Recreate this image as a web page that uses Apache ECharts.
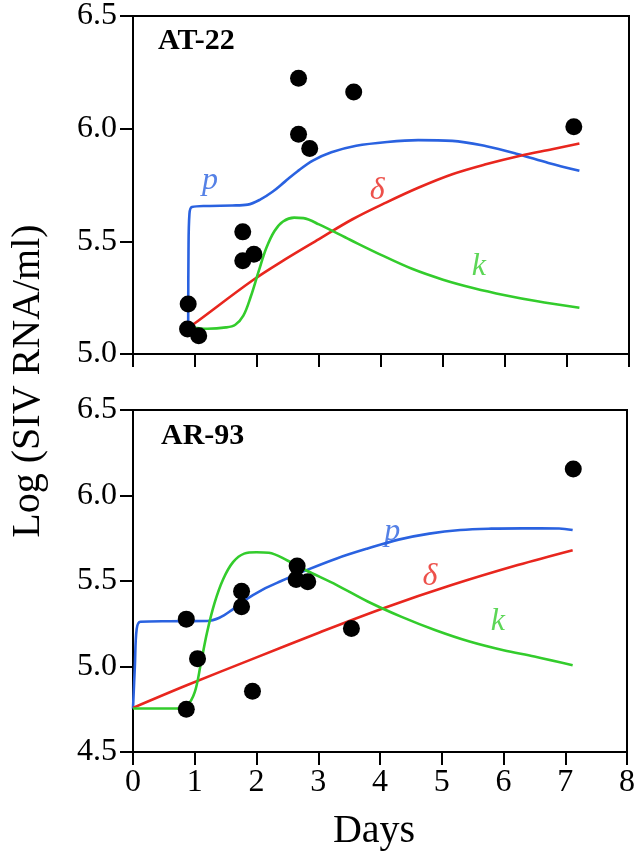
<!DOCTYPE html>
<html>
<head>
<meta charset="utf-8">
<script src="https://cdn.jsdelivr.net/npm/echarts@6/dist/echarts.min.js"></script>
<style>html,body{margin:0;padding:0;background:#fff}#c{width:638px;height:853px}</style>
</head>
<body>
<div id="c"></div>
<script>
// ---- data (days, log10 SIV RNA/ml) ----
const xTicks = [0, 1, 2, 3, 4, 5, 6, 7, 8];
const topYTicks = [5.0, 5.5, 6.0, 6.5];
const botYTicks = [4.5, 5.0, 5.5, 6.0, 6.5];
const panelNames = ['AT-22', 'AR-93'];

const atDots = [[0.89,5.222],[0.88,5.111],[1.06,5.081],[1.77,5.542],[1.77,5.414],[1.95,5.443],
  [2.67,6.224],[2.67,5.975],[2.85,5.912],[3.56,6.163],[7.11,6.009]];
const atP = [[0.89,5.12],[0.895,5.45],[0.91,5.62],[0.95,5.652],[1.2,5.657],[1.6,5.659],[1.85,5.663],
  [2.05,5.685],[2.25,5.72],[2.45,5.765],[2.65,5.81],[2.9,5.858],[3.2,5.895],[3.6,5.924],[4.1,5.941],
  [4.6,5.949],[5.15,5.946],[5.7,5.922],[6.2,5.888],[6.7,5.848],[7.2,5.813]];
const atDelta = [[0.9,5.12],[0.98,5.133],[1.92,5.325],[2.46,5.421],[3.0,5.51],[3.54,5.598],
  [4.08,5.672],[4.61,5.739],[5.15,5.798],[5.69,5.842],[6.23,5.879],[6.76,5.909],[7.2,5.934]];
const atK = [[0.9,5.12],[1.2,5.112],[1.5,5.118],[1.65,5.13],[1.78,5.17],[1.9,5.255],[2.03,5.37],
  [2.15,5.47],[2.28,5.545],[2.42,5.588],[2.6,5.605],[2.75,5.603],[3.0,5.575],[3.5,5.507],[4.0,5.44],
  [4.5,5.378],[5.0,5.33],[5.5,5.292],[6.0,5.261],[6.5,5.235],[7.2,5.205]];
const atLabels = [[1.24,5.77,'p'],[3.94,5.724,'δ'],[5.58,5.39,'k']];

const arDots = [[0.863,5.277],[1.045,5.046],[0.863,4.75],[1.758,5.44],[1.758,5.349],[1.935,4.855],
  [2.658,5.587],[2.642,5.509],[2.83,5.495],[3.537,5.222],[7.13,6.155]];
const arP = [[0,4.754],[0.03,5.0],[0.06,5.22],[0.12,5.262],[0.6,5.265],[1.2,5.266],[1.4,5.285],
  [1.6,5.33],[1.8,5.385],[2.1,5.45],[2.4,5.5],[2.8,5.562],[3.3,5.632],[3.8,5.69],[4.3,5.742],
  [4.8,5.777],[5.3,5.798],[5.8,5.806],[6.3,5.808],[6.9,5.807],[7.12,5.798]];
const arDelta = [[0,4.758],[0.87,4.89],[1.95,5.046],[3.02,5.199],[4.09,5.345],[5.16,5.476],
  [6.23,5.593],[7.12,5.68]];
const arK = [[0,4.754],[0.7,4.754],[0.87,4.77],[1.0,4.85],[1.1,5.02],[1.2,5.2],[1.32,5.37],[1.46,5.51],
  [1.62,5.61],[1.8,5.66],[2.0,5.668],[2.2,5.665],[2.5,5.62],[2.8,5.563],[3.3,5.476],[3.8,5.38],
  [4.35,5.29],[4.9,5.212],[5.45,5.146],[6.0,5.095],[6.5,5.058],[7.12,5.007]];
const arLabels = [[4.2,5.788,'p'],[4.81,5.524,'δ'],[5.91,5.261,'k']];

// ---- styles ----
const SERIF = '"Liberation Serif", "DejaVu Serif", serif';
const BLUE = '#2a62e0', RED = '#e8261e', GREEN = '#33cc2c';
const labelColors = {p: BLUE, 'δ': RED, k: GREEN};

function xAx(gi, showLabels) {
  return {
    type: 'value', gridIndex: gi, min: xTicks[0], max: xTicks[xTicks.length - 1], interval: 1,
    axisLine: {show: true, onZero: false, lineStyle: {color: '#000', width: 2}},
    axisTick: {show: true, inside: false, length: 13, lineStyle: {color: '#000', width: 2}},
    axisLabel: {show: showLabels, margin: 15, fontFamily: SERIF, fontSize: 32, color: '#000'},
    splitLine: {show: false}
  };
}
function yAx(gi, ticks) {
  return {
    type: 'value', gridIndex: gi, min: ticks[0], max: ticks[ticks.length - 1], interval: 0.5,
    axisLine: {show: true, onZero: false, lineStyle: {color: '#000', width: 2}},
    axisTick: {show: true, inside: false, length: 13, lineStyle: {color: '#000', width: 2}},
    axisLabel: {show: true, margin: 16, fontFamily: SERIF, fontSize: 32, color: '#000',
      formatter: v => v.toFixed(1)},
    splitLine: {show: false}
  };
}
function curve(data, color, gi) {
  return {type: 'line', xAxisIndex: gi, yAxisIndex: gi, data: data, symbol: 'none',
    smooth: 0.35, lineStyle: {color: color, width: 2.6}, z: 3, silent: true};
}
function dots(data, gi) {
  return {type: 'scatter', xAxisIndex: gi, yAxisIndex: gi, data: data, symbol: 'circle',
    symbolSize: 17, itemStyle: {color: '#000', opacity: 1}, z: 5, silent: true};
}
function labels(data, gi) {
  return {type: 'scatter', xAxisIndex: gi, yAxisIndex: gi, symbolSize: 0, z: 6, silent: true,
    data: data.map(d => ({value: [d[0], d[1]], name: d[2],
      label: {show: true, position: 'inside', formatter: d[2], color: labelColors[d[2]],
        fontFamily: SERIF, fontSize: 32, fontStyle: 'italic'}}))};
}

const chart = echarts.init(document.getElementById('c'), null, {renderer: 'canvas'});
chart.setOption({
  animation: false,
  backgroundColor: '#fff',
  grid: [
    {left: 133, right: 9, top: 15, height: 339, show: true, borderColor: '#000', borderWidth: 2, backgroundColor: 'transparent'},
    {left: 133, right: 9, top: 410, height: 342, show: true, borderColor: '#000', borderWidth: 2, backgroundColor: 'transparent'}
  ],
  title: [
    {text: panelNames[0], left: 153, top: 21, textStyle: {fontFamily: SERIF, fontSize: 30, fontWeight: 'bold', color: '#000'}},
    {text: panelNames[1], left: 156, top: 416, textStyle: {fontFamily: SERIF, fontSize: 30, fontWeight: 'bold', color: '#000'}}
  ],
  xAxis: [xAx(0, false), xAx(1, true)],
  yAxis: [yAx(0, topYTicks), yAx(1, botYTicks)],
  graphic: [{
    type: 'text', x: 28, y: 381, rotation: Math.PI / 2,
    style: {text: 'Log (SIV RNA/ml)', font: '40px ' + SERIF, fill: '#000', align: 'center', verticalAlign: 'middle'}
  }, {
    type: 'text', x: 374, y: 831,
    style: {text: 'Days', font: '40px ' + SERIF, fill: '#000', align: 'center', verticalAlign: 'middle'}
  }],
  series: [
    curve(atP, BLUE, 0), curve(atDelta, RED, 0), curve(atK, GREEN, 0), dots(atDots, 0), labels(atLabels, 0),
    curve(arP, BLUE, 1), curve(arDelta, RED, 1), curve(arK, GREEN, 1), dots(arDots, 1), labels(arLabels, 1)
  ]
});
</script>
</body>
</html>
